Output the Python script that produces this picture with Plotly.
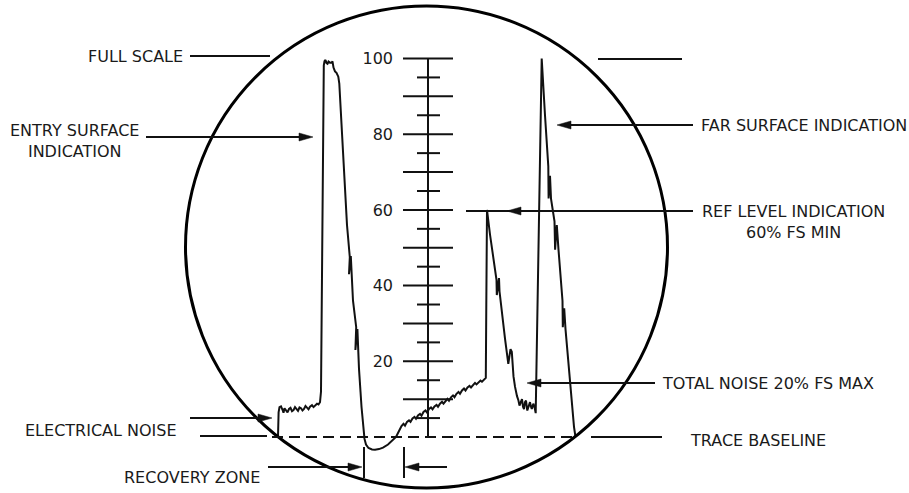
import plotly.graph_objects as go

# ---------------- data (sweep position, amplitude in % full scale) ----------------
trace_x = [
    278, 278.6, 279.5, 281, 282.5, 283.5, 284.5, 286, 287.5, 289, 290.5, 292, 293.5, 295,
    296.5, 298, 299.5, 301, 302.5, 304, 305.5, 307, 308.5, 310, 312, 313.5, 315, 317, 318.5, 320,
    321, 322.5, 323.8,
    324.5, 325.5, 326.5, 327.5, 328.5, 330, 331.5, 332.5, 333.5, 335, 336.5, 338.3,
    339.3, 343, 347, 349.8, 349.0, 350.8, 353, 356.2, 355.4, 357.4, 359, 361.5, 363.3,
    364.5, 366, 368.5, 372, 375, 379, 383, 388, 392, 396,
    399, 401.5, 403.5, 405, 407, 409, 410.5, 412.5, 414.5, 416, 418, 420, 421.5, 423.5, 425.5,
    427, 429, 431, 432.5, 434.5, 436.5, 438, 440, 442, 443.5, 445.5, 447.5, 449, 451, 453,
    454.5, 456.5, 458.5, 460, 462, 464, 465.5, 467.5, 469.5, 471, 473, 475, 476.5, 478.5,
    480.5, 482, 484, 485.8,
    486.3, 487,
    490, 493.5, 496.5, 496.8, 499.0, 499.5, 502, 505, 508.3, 510.5, 511.8, 513.5, 515, 516, 517,
    518.3, 519.5, 520.5, 522, 523, 524, 525, 526, 527.3, 528.5, 530, 531, 531.8, 533.3, 534.5, 535.7,
    541.7,
    545, 548.3, 548.6, 550.0, 551, 554.5, 555.1, 556.8, 558.5, 562.5, 562.8, 564.2, 565.5, 570, 574, 575.5,
]
trace_y = [
    0, 6.5, 7.9, 8.1, 7.2, 6.4, 7.6, 7.0, 6.5, 7.4, 7.7, 6.8, 7.1, 7.9,
    7.3, 6.9, 7.8, 7.6, 7.0, 7.4, 8.2, 7.7, 7.3, 8.0, 8.4, 7.9, 8.3, 8.8, 8.6, 9.2,
    12, 60, 98.2,
    99.3, 99.6, 98.8, 98.6, 99.2, 98.9, 98.9, 99.2, 97.6, 96.6, 96.2, 95.2,
    93.4, 75, 56, 47.5, 43.0, 47.8, 36, 29.0, 23.0, 28.5, 18, 8, 1.8,
    -0.5, -2.0, -2.9, -3.3, -3.35, -3.2, -2.8, -2.0, -1.1, 0.0,
    1.6, 2.9, 3.5, 3.0, 4.0, 4.4, 4.0, 4.9, 5.3, 4.8, 5.7, 6.1, 5.6, 6.6, 7.0,
    6.5, 7.4, 7.8, 7.3, 8.1, 8.5, 8.0, 8.8, 9.3, 8.8, 9.6, 10.1, 9.6, 10.5, 11.0,
    10.5, 11.4, 11.9, 11.4, 12.3, 12.8, 12.3, 13.1, 13.5, 13.1, 13.8, 14.3, 13.9, 14.5,
    14.9, 14.6, 15.2, 15.6,
    35, 60,
    53.5, 46.5, 41.5, 37.5, 42.0, 38.5, 32.5, 26, 19.3, 23.2, 22.5, 16, 13.3, 11.6, 10.8,
    9.8, 8.3, 9.0, 10.0, 8.0, 7.4, 9.2, 9.6, 7.0, 8.0, 9.2, 8.0, 7.4, 8.8, 7.9, 6.3,
    100,
    85, 71.5, 63.0, 69.0, 63, 57, 49.5, 56.0, 49.5, 36, 29.0, 34.0, 28.5, 14, 2.7, 0,
]

scale_major = [10, 20, 30, 40, 50, 60, 70, 80, 90, 100]
scale_minor = [5, 15, 25, 35, 45, 55, 65, 75, 85, 95]
scale_labels = [20, 40, 60, 80, 100]

# ---------------- geometry ----------------
W, H = 909, 493
PX_PER_PCT = 3.785
BASE_PX = 437.0
Y_TOP = BASE_PX / PX_PER_PCT
Y_BOT = (BASE_PX - H) / PX_PER_PCT

FONT = "DejaVu Sans"
FS = 16
TXT = "#1a1a1a"
INK = "#111111"

fig = go.Figure()

# scale: vertical line + tick marks built from tick arrays
AX_X = 428
fig.add_trace(go.Scatter(x=[AX_X, AX_X], y=[0, 100], mode="lines",
                         line=dict(color=INK, width=2), hoverinfo="skip", showlegend=False))
tx, ty = [], []
for v in scale_major:
    tx += [AX_X - 25, AX_X + 25, None]
    ty += [v, v, None]
for v in scale_minor:
    tx += [AX_X - 11, AX_X + 12, None]
    ty += [v, v, None]
fig.add_trace(go.Scatter(x=tx, y=ty, mode="lines", line=dict(color=INK, width=2),
                         hoverinfo="skip", showlegend=False))

# the A-scan trace
fig.add_trace(go.Scatter(x=trace_x, y=trace_y, mode="lines",
                         line=dict(color=INK, width=2), hoverinfo="skip", showlegend=False))

shapes = []


def line(x0, y0, x1, y1, width=2, dash=None):
    d = dict(type="line", xref="x", yref="y2", x0=x0, y0=y0, x1=x1, y1=y1,
             line=dict(color=INK, width=width))
    if dash:
        d["line"]["dash"] = dash
    shapes.append(d)


def head(xt, yt, direction, length=14, half=4):
    xb = xt - direction * length
    shapes.append(dict(type="path", xref="x", yref="y2",
                       path=f"M{xt},{yt} L{xb},{yt - half} L{xb},{yt + half} Z",
                       fillcolor=INK, line=dict(color=INK, width=0.5)))


# CRT circle
shapes.append(dict(type="circle", xref="x", yref="y2", x0=185.5, x1=667.5, y0=6, y1=488,
                   line=dict(color="black", width=3)))

# baseline
line(272, 437, 575, 437, width=1.8, dash="11px,6px")
line(200, 436, 267, 436)
line(591, 437, 662, 437)
# full scale marks
line(190, 56, 270, 56)
line(598, 59, 682, 59)
# entry surface arrow
line(146, 137, 305, 137); head(313, 137, +1)
# far surface arrow
line(693, 125, 565, 125); head(557, 125, -1)
# ref level
line(466, 211, 693, 211); head(507, 211, -1)
# total noise
line(655, 383, 535, 383); head(527, 383, -1)
# electrical noise
line(190, 418, 265, 418); head(272, 418, +1)
# recovery zone
line(268, 467, 355, 467); head(362, 467, +1)
line(447, 467, 412, 467); head(405, 467, -1)
line(364, 447, 364, 478)
line(404, 447, 404, 478)

annotations = []


def label(text, x, y, xanchor="left", align="left"):
    annotations.append(dict(text=text, x=x, y=y, xref="x", yref="y2", showarrow=False,
                            xanchor=xanchor, yanchor="middle", align=align,
                            font=dict(family=FONT, size=FS, color=TXT)))


label("FULL SCALE", 185, 56, "right")
label("ENTRY SURFACE<br>INDICATION", 74, 140.5, "center", "center")
label("FAR SURFACE INDICATION", 699, 125)
label("REF LEVEL INDICATION<br>60% FS MIN", 793, 222, "center", "center")
label("TOTAL NOISE 20% FS MAX", 660, 383)
label("TRACE BASELINE", 688, 440)
label("ELECTRICAL NOISE", 179, 430, "right")
label("RECOVERY ZONE", 262, 477, "right")

fig.update_layout(
    width=W, height=H, autosize=False,
    margin=dict(l=0, r=0, t=0, b=0, pad=0),
    paper_bgcolor="white", plot_bgcolor="white",
    showlegend=False,
    xaxis=dict(range=[0, W], visible=False, fixedrange=True),
    yaxis=dict(range=[Y_BOT, Y_TOP], anchor="free", position=393 / W,
               tickvals=scale_labels, ticktext=[str(v) for v in scale_labels],
               showgrid=False, zeroline=False, showline=False, ticks="",
               tickfont=dict(family=FONT, size=FS, color=TXT), fixedrange=True),
    yaxis2=dict(range=[H, 0], overlaying="y", visible=False, fixedrange=True),
    shapes=shapes,
    annotations=annotations,
)

fig.write_html("out.html", config={"displayModeBar": False},
               post_script="document.body.style.margin='0';")
